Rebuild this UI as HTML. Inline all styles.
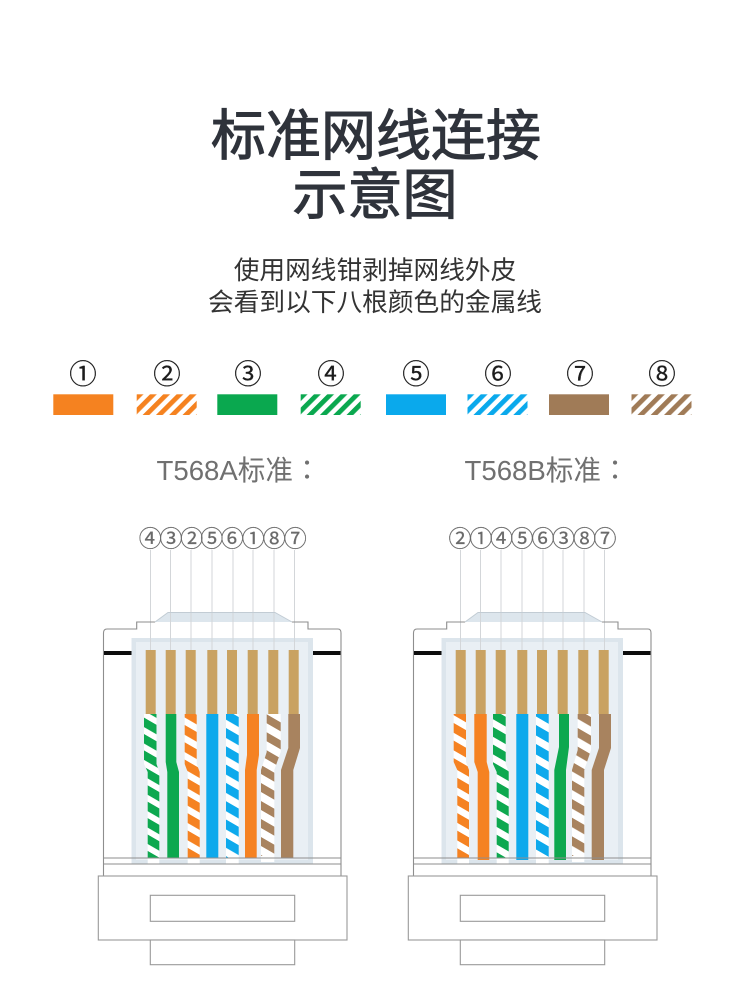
<!DOCTYPE html>
<html lang="zh">
<head>
<meta charset="utf-8">
<title>标准网线连接示意图</title>
<style>
html,body{margin:0;padding:0;background:#fff}
body{width:750px;height:1000px;overflow:hidden}
svg{display:block}
text{font-family:"Liberation Sans","Noto Sans CJK SC",sans-serif;text-anchor:middle}
.t{font-size:55px;font-weight:400;fill:#2f333b;stroke:#2f333b;stroke-width:1.1px}
.s{font-size:25.7px;fill:#333}
.h{font-size:27.6px;fill:#707070;text-anchor:start}
.c{font-size:27.6px;fill:#707070;font-family:"Noto Sans CJK TC",sans-serif}
.n{font-size:27.5px;fill:#1c1c1c;stroke:#1c1c1c;stroke-width:.25px;font-family:"Noto Sans CJK SC",sans-serif}
.m{font-size:23px;fill:#6a6a6a;stroke:#6a6a6a;stroke-width:.2px;font-family:"Noto Sans CJK SC",sans-serif}
</style>
</head>
<body>
<svg width="750" height="1000" viewBox="0 0 750 1000" xmlns="http://www.w3.org/2000/svg">
<defs>
<filter id="soft" x="-2%" y="-2%" width="104%" height="104%"><feGaussianBlur stdDeviation="0.35"/></filter>
<pattern id="lo" width="9.400" height="21" patternUnits="userSpaceOnUse" patternTransform="translate(136.700,394.300) rotate(45)"><rect width="9.400" height="21" fill="#fff"/><rect width="4.800" height="21" fill="#f58220"/></pattern>
<pattern id="lg" width="9.400" height="21" patternUnits="userSpaceOnUse" patternTransform="translate(300.700,394.300) rotate(45)"><rect width="9.400" height="21" fill="#fff"/><rect width="4.800" height="21" fill="#0aa84f"/></pattern>
<pattern id="lb" width="9.400" height="21" patternUnits="userSpaceOnUse" patternTransform="translate(467.500,394.300) rotate(45)"><rect width="9.400" height="21" fill="#fff"/><rect width="4.800" height="21" fill="#0aa9ec"/></pattern>
<pattern id="ln" width="9.400" height="21" patternUnits="userSpaceOnUse" patternTransform="translate(631.500,394.300) rotate(45)"><rect width="9.400" height="21" fill="#fff"/><rect width="4.800" height="21" fill="#a07b57"/></pattern>

<pattern id="a1" width="30" height="16.400" patternUnits="userSpaceOnUse" patternTransform="translate(144,734) skewY(30)"><rect width="30" height="16.400" fill="#fff"/><rect width="30" height="9.500" fill="#0aa84f"/></pattern>
<pattern id="a3" width="30" height="17.300" patternUnits="userSpaceOnUse" patternTransform="translate(184.700,725) skewY(30)"><rect width="30" height="17.300" fill="#fff"/><rect width="30" height="9.800" fill="#f58220"/></pattern>
<pattern id="a5" width="30" height="18.300" patternUnits="userSpaceOnUse" patternTransform="translate(226,728) skewY(30)"><rect width="30" height="18.300" fill="#fff"/><rect width="30" height="10" fill="#0aa9ec"/></pattern>
<pattern id="a7" width="30" height="18" patternUnits="userSpaceOnUse" patternTransform="translate(261,765) skewY(30)"><rect width="30" height="18" fill="#fff"/><rect width="30" height="9" fill="#a8835f"/></pattern>
<pattern id="b1" width="30" height="17.600" patternUnits="userSpaceOnUse" patternTransform="translate(453.700,723) skewY(30)"><rect width="30" height="17.600" fill="#fff"/><rect width="30" height="9.800" fill="#f58220"/></pattern>
<pattern id="b3" width="30" height="17.600" patternUnits="userSpaceOnUse" patternTransform="translate(493,727) skewY(30)"><rect width="30" height="17.600" fill="#fff"/><rect width="30" height="9.800" fill="#0aa84f"/></pattern>
<pattern id="b5" width="30" height="19" patternUnits="userSpaceOnUse" patternTransform="translate(536,725) skewY(30)"><rect width="30" height="19" fill="#fff"/><rect width="30" height="10.500" fill="#0aa9ec"/></pattern>
<pattern id="b7" width="30" height="18.600" patternUnits="userSpaceOnUse" patternTransform="translate(577.700,728) skewY(30)"><rect width="30" height="18.600" fill="#fff"/><rect width="30" height="9.500" fill="#a8835f"/></pattern>

<g id="shell">
  <polygon points="155,622 168,612.500 275,612.500 292,622" fill="#dde6ed"/>
  <rect x="131.500" y="638" width="181.500" height="226" fill="#dce5ec"/>
  <rect x="136" y="642" width="172" height="218" fill="#e9eff4"/>
  <path d="M150.500 550V650M170.500 550V650M191 550V650M212 550V650M233 550V650M253 550V650M274 550V650M294.500 550V650" stroke="#d3d6d9" stroke-width="1" fill="none"/>
  <path d="M103.500 876V633Q103.500 629 107 629H136.700V622H155M292 622H308V629H338Q341 629 341 633V876" fill="none" stroke="#8e8e8e" stroke-width="1.100"/>
  <path d="M155 622L168 612.500H275L292 622" fill="none" stroke="#c2ccd4" stroke-width="1"/>
  <rect x="104" y="651" width="27.500" height="4" fill="#0b0b0b"/>
  <rect x="313" y="651" width="27.500" height="4" fill="#0b0b0b"/>
  <g fill="#c9a262">
    <rect x="145.700" y="650" width="10" height="64"/>
    <rect x="165.700" y="650" width="10" height="64"/>
    <rect x="185.700" y="650" width="10" height="64"/>
    <rect x="207.300" y="650" width="10" height="64"/>
    <rect x="227" y="650" width="10" height="64"/>
    <rect x="247.700" y="650" width="10" height="64"/>
    <rect x="268.300" y="650" width="10" height="64"/>
    <rect x="288.700" y="650" width="10" height="64"/>
  </g>
</g>
<g id="base">
  <path d="M104 858H341M104 864H341" stroke="#8e8e8e" stroke-width="1" fill="none"/>
  <rect x="98.300" y="876" width="248.700" height="64" fill="#fff" stroke="#999" stroke-width="1.100"/>
  <rect x="150.300" y="895.300" width="144.400" height="26" fill="#fff" stroke="#999" stroke-width="1.100"/>
  <rect x="150.300" y="940" width="144.400" height="24.700" fill="#fff" stroke="#999" stroke-width="1.100"/>
</g>
</defs>

<rect width="750" height="1000" fill="#fff"/>

<text class="t" x="376" y="155">标准网线连接</text>
<text class="t" x="375" y="214">示意图</text>
<text class="s" x="375" y="279">使用网线钳剥掉网线外皮</text>
<text class="s" x="375" y="311">会看到以下八根颜色的金属线</text>

<text class="n" x="83" y="383.500">①</text>
<text class="n" x="167" y="383.500">②</text>
<text class="n" x="248" y="383.500">③</text>
<text class="n" x="331" y="383.500">④</text>
<text class="n" x="416" y="383.500">⑤</text>
<text class="n" x="498" y="383.500">⑥</text>
<text class="n" x="580" y="383.500">⑦</text>
<text class="n" x="662" y="383.500">⑧</text>

<rect x="53.300" y="394.300" width="60" height="20.700" fill="#f58220"/>
<rect x="136.700" y="394.300" width="60" height="20.700" fill="url(#lo)"/>
<rect x="217.300" y="394.300" width="60" height="20.700" fill="#0aa84f"/>
<rect x="300.700" y="394.300" width="60" height="20.700" fill="url(#lg)"/>
<rect x="386" y="394.300" width="60" height="20.700" fill="#0aa9ec"/>
<rect x="467.500" y="394.300" width="60" height="20.700" fill="url(#lb)"/>
<rect x="549" y="394.300" width="60" height="20.700" fill="#a07b57"/>
<rect x="631.500" y="394.300" width="60" height="20.700" fill="url(#ln)"/>

<text class="h" x="156.500" y="480">T568A标准</text>
<text class="c" x="307" y="480">：</text>
<text class="h" x="464.500" y="480">T568B标准</text>
<text class="c" x="615" y="480">：</text>

<g>
<text class="m" x="150.300" y="546.500">④</text>
<text class="m" x="171" y="546.500">③</text>
<text class="m" x="191.700" y="546.500">②</text>
<text class="m" x="211.700" y="546.500">⑤</text>
<text class="m" x="232.300" y="546.500">⑥</text>
<text class="m" x="253.300" y="546.500">①</text>
<text class="m" x="274.300" y="546.500">⑧</text>
<text class="m" x="295.300" y="546.500">⑦</text>
</g>
<g>
<text class="m" x="460" y="546.500">②</text>
<text class="m" x="481" y="546.500">①</text>
<text class="m" x="501.500" y="546.500">④</text>
<text class="m" x="522" y="546.500">⑤</text>
<text class="m" x="543" y="546.500">⑥</text>
<text class="m" x="563.500" y="546.500">③</text>
<text class="m" x="584.500" y="546.500">⑧</text>
<text class="m" x="605" y="546.500">⑦</text>
</g>

<g filter="url(#soft)">
<use href="#shell"/>
<use href="#shell" x="310"/>

<!-- T568A wires -->
<polygon points="144,714 156.500,714 156.500,764 159.300,772 159.300,858 147.700,858 147.700,772 144,764" fill="url(#a1)"/>
<rect x="147.700" y="858" width="11.600" height="6" fill="#fff"/>
<polygon points="165.700,714 176.300,714 176.300,762 179,772 179,858 167.300,858 167.300,772 165.700,762" fill="#0aa84f"/>
<polygon points="184.700,714 196.700,714 196.700,764 199.700,772 199.700,858 187.700,858 187.700,772 184.700,764" fill="url(#a3)"/>
<rect x="187.700" y="858" width="12" height="6" fill="#fff"/>
<rect x="206.300" y="714" width="12" height="144" fill="#0aa9ec"/>
<rect x="226" y="714" width="12.700" height="144" fill="url(#a5)"/>
<rect x="226" y="858" width="12.700" height="6" fill="#fff"/>
<polygon points="247,714 259,714 259,755 256.700,770 256.700,858 245,858 245,770 247,755" fill="#f58220"/>
<polygon points="266.700,714 280.700,714 280.700,752 274.300,770 274.300,856 261,856 261,770 266.700,752" fill="url(#a7)"/>
<rect x="261" y="856" width="13.300" height="6" fill="#fff"/>
<polygon points="288.300,714 300,714 300,748 293.300,770 293.300,858 281,858 281,770 288.300,748" fill="#a8835f"/>

<!-- T568B wires -->
<polygon points="453.700,714 466,714 466,762 469,770 469,858 457.300,858 457.300,770 453.700,762" fill="url(#b1)"/>
<rect x="457.300" y="858" width="11.700" height="6" fill="#fff"/>
<polygon points="474.300,714 486.700,714 486.700,762 489.300,772 489.300,860 477.700,860 477.700,772 474.300,762" fill="#f58220"/>
<polygon points="493,714 505.700,714 505.700,764 508.700,772 508.700,858 496.700,858 496.700,772 493,764" fill="url(#b3)"/>
<rect x="496.700" y="858" width="12" height="6" fill="#fff"/>
<rect x="516.300" y="714" width="12" height="146" fill="#0aa9ec"/>
<rect x="536" y="714" width="12.700" height="144" fill="url(#b5)"/>
<rect x="536" y="858" width="12.700" height="6" fill="#fff"/>
<polygon points="559,714 569,714 569,747 566,770 566,860 554.300,860 554.300,770 559,747" fill="#0aa84f"/>
<polygon points="577.700,714 591,714 591,750 584.300,770 584.300,856 572,856 572,770 577.700,750" fill="url(#b7)"/>
<rect x="572" y="856" width="12.300" height="6" fill="#fff"/>
<polygon points="599,714 611,714 611,748 604,770 604,860 591.700,860 591.700,770 599,748" fill="#a8835f"/>

<use href="#base"/>
<use href="#base" x="310"/>
</g>
</svg>
</body>
</html>
